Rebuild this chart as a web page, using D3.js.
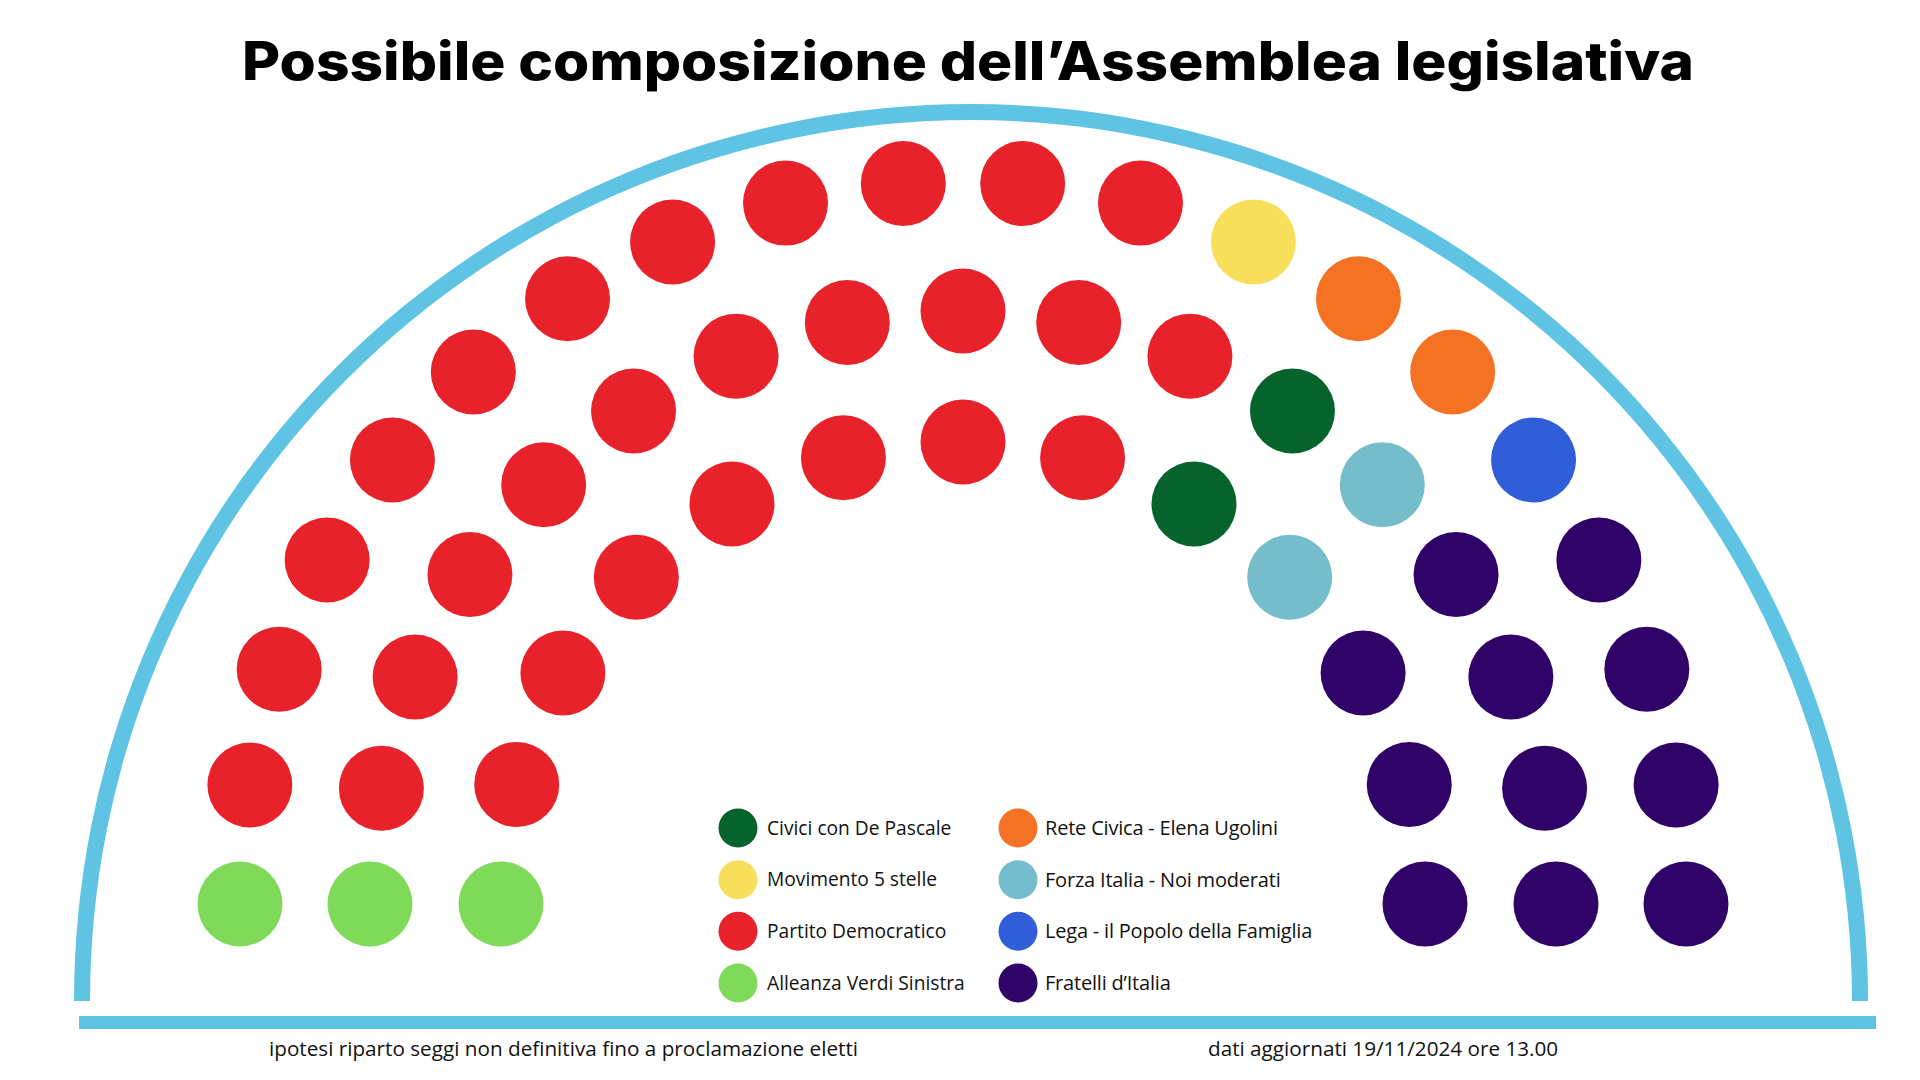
<!DOCTYPE html>
<html>
<head>
<meta charset="utf-8">
<script src="https://cdn.jsdelivr.net/npm/d3@7"></script>
<style>
  html, body { margin: 0; padding: 0; background: #ffffff; }
  svg { display: block; }
</style>
</head>
<body>
<svg id="chart" width="1920" height="1080"></svg>
<script>
// ---------- DATA ----------
const title = "Possibile composizione dell\u2019Assemblea legislativa";
const noteLeft = "ipotesi riparto seggi non definitiva fino a proclamazione eletti";
const noteRight = "dati aggiornati 19/11/2024 ore 13.00";

// party order along each arc (left -> right)
const parties = [
  "Alleanza Verdi Sinistra",
  "Partito Democratico",
  "Civici con De Pascale",
  "Movimento 5 stelle",
  "Rete Civica - Elena Ugolini",
  "Forza Italia - Noi moderati",
  "Lega - il Popolo della Famiglia",
  "Fratelli d\u2019Italia"
];
const partyColors = ["#80DA5A", "#E8222A", "#05632B", "#F7DF5C", "#F37223", "#75BDCA", "#305ED8", "#300368"];

// seats of each party in each row (outer, middle, inner)
const seatsOuter  = [1, 11, 0, 1, 2, 0, 1, 4];
const seatsMiddle = [1, 10, 1, 0, 0, 1, 0, 4];
const seatsInner  = [1,  7, 1, 0, 0, 1, 0, 3];
const rows = ["outer", "middle", "inner"];

// legend order (two columns)
const legendLeft  = ["Civici con De Pascale", "Movimento 5 stelle", "Partito Democratico", "Alleanza Verdi Sinistra"];
const legendRight = ["Rete Civica - Elena Ugolini", "Forza Italia - Noi moderati", "Lega - il Popolo della Famiglia", "Fratelli d\u2019Italia"];

// ---------- LAYOUT ----------
const svg = d3.select("#chart");
const color = d3.scaleOrdinal().domain(parties).range(partyColors);

// title
svg.append("text")
  .attr("x", 968).attr("y", 80)
  .attr("text-anchor", "middle")
  .attr("font-family", "Inter, 'Noto Sans', sans-serif")
  .attr("font-weight", 800)
  .attr("font-size", 53)
  .attr("textLength", 1452)
  .attr("lengthAdjust", "spacingAndGlyphs")
  .attr("fill", "#000")
  .text(title);

// hemicycle frame
const frameCx = 971, frameCy = 1001, frameR = 889, frameW = 16;
svg.append("path")
  .attr("transform", `translate(${frameCx},${frameCy})`)
  .attr("d", d3.arc()({innerRadius: frameR - frameW / 2, outerRadius: frameR + frameW / 2,
                       startAngle: -Math.PI / 2, endAngle: Math.PI / 2}))
  .attr("fill", "#5FC3E3");
svg.append("rect")
  .attr("x", 79).attr("y", 1016).attr("width", 1876 - 79).attr("height", 13)
  .attr("fill", "#5FC3E3");

// seats
const cx = 963, cy = 904, seatR = 42.5;
const radius = d3.scaleOrdinal().domain(rows).range([723, 593, 462]);
const rowSeats = [seatsOuter, seatsMiddle, seatsInner];

const seats = [];
rows.forEach((row, ri) => {
  const list = [];
  rowSeats[ri].forEach((n, pi) => { for (let k = 0; k < n; k++) list.push(parties[pi]); });
  const angle = d3.scaleLinear().domain([0, list.length - 1]).range([Math.PI, 0]);
  list.forEach((p, i) => seats.push({row, party: p, a: angle(i)}));
});

svg.append("g").selectAll("circle")
  .data(seats)
  .join("circle")
  .attr("cx", d => cx + radius(d.row) * Math.cos(d.a))
  .attr("cy", d => cy - radius(d.row) * Math.sin(d.a))
  .attr("r", seatR)
  .attr("fill", d => color(d.party));

// legend
const legY = d3.scalePoint().domain([0, 1, 2, 3]).range([828, 983]);
function legend(list, x0, tx) {
  const g = svg.append("g");
  const it = g.selectAll("g").data(list).join("g")
    .attr("transform", (d, i) => `translate(0,${legY(i)})`);
  it.append("circle").attr("cx", x0).attr("cy", 0).attr("r", 19.5).attr("fill", d => color(d));
  it.append("text").attr("x", tx).attr("y", 0).attr("dy", "0.35em")
    .attr("font-family", "'Open Sans', sans-serif").attr("font-size", 19.2)
    .attr("fill", "#111").text(d => d);
  return it;
}
legend(legendLeft, 738, 767);
const right = legend(legendRight, 1018, 1045);
right.select("text").attr("font-size", 20).attr("letter-spacing", -0.2);

// footnotes
svg.append("text").attr("x", 269).attr("y", 1056)
  .attr("font-family", "'Open Sans', sans-serif").attr("font-size", 20.7).attr("fill", "#111")
  .text(noteLeft);
svg.append("text").attr("x", 1208).attr("y", 1056)
  .attr("font-family", "'Open Sans', sans-serif").attr("font-size", 20.7).attr("fill", "#111")
  .text(noteRight);
</script>
</body>
</html>
